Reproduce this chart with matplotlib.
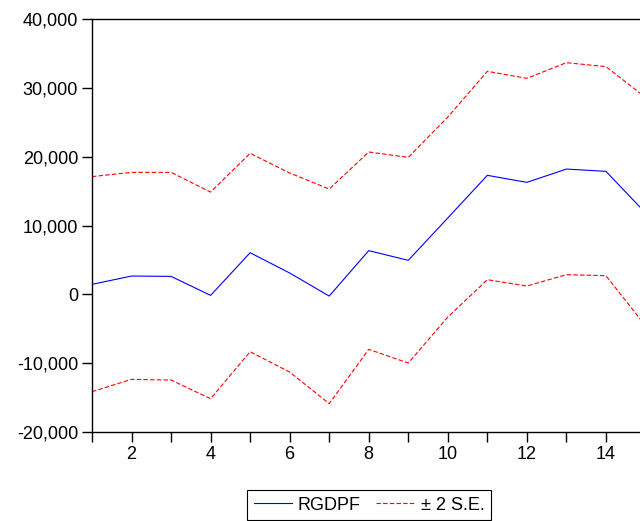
import matplotlib.pyplot as plt
from matplotlib.ticker import FuncFormatter, MultipleLocator

# forecast horizon and values
periods = list(range(1, 16))
rgdpf = [1450, 2660, 2610, -150, 6050, 3100, -250, 6350, 4940,
         11100, 17290, 16270, 18200, 17870, 11840]
upper = [17100, 17720, 17720, 14860, 20490, 17630, 15300, 20680, 19900,
         25760, 32400, 31380, 33660, 33080, 28620]
lower = [-14140, -12350, -12450, -15160, -8330, -11290, -15880, -7990, -9980,
         -3300, 2130, 1210, 2860, 2710, -4550]

plt.rcParams['font.family'] = ['Liberation Sans', 'DejaVu Sans']

fig = plt.figure(figsize=(6.4, 5.21), dpi=100)
ax = fig.add_axes([0.14375, 0.1708, 0.8648, 0.7927])

ax.plot(periods, rgdpf, color='#0000ff', lw=0.8, label='RGDPF')
ax.plot(periods, upper, color='#ff0000', lw=0.8, ls=(0, (4, 2)),
        label='± 2 S.E.')
ax.plot(periods, lower, color='#ff0000', lw=0.8, ls=(0, (4, 2)))

ax.set_xlim(1, 15)
ax.set_ylim(-20000, 40000)
ax.xaxis.set_major_locator(MultipleLocator(2))
ax.xaxis.set_minor_locator(MultipleLocator(1))
ax.yaxis.set_major_locator(MultipleLocator(10000))
ax.yaxis.set_major_formatter(FuncFormatter(lambda v, p: f'{int(v):,}'))
ax.tick_params(axis='both', which='both', direction='out', length=7,
               width=1, labelsize=13, colors='black')
ax.tick_params(axis='x', pad=3)
ax.tick_params(axis='y', pad=3)
ax.spines['right'].set_visible(False)
for s in ['left', 'bottom', 'top']:
    ax.spines[s].set_linewidth(1)

leg = fig.legend(loc='center', bbox_to_anchor=(0.5766, 0.0307), ncol=2,
                 fontsize=13, frameon=True, fancybox=False, edgecolor='black',
                 handlelength=2.1, columnspacing=0.85, borderpad=0.35,
                 handletextpad=0.35, borderaxespad=0, framealpha=1)
leg.get_frame().set_linewidth(0.8)

fig.savefig('out.png', dpi=100)
